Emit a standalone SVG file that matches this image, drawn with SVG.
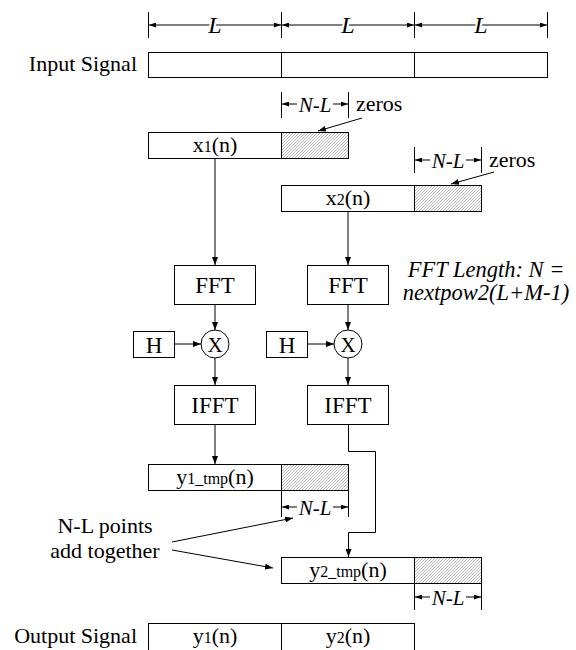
<svg xmlns="http://www.w3.org/2000/svg" width="576" height="650" viewBox="0 0 576 650" font-family="'Liberation Serif', 'Times New Roman', serif">
<style>
.box{fill:#fff;stroke:#000;stroke-width:1}
.hat{fill:url(#hatch);stroke:#000;stroke-width:1}
.ln{fill:none;stroke:#000;stroke-width:1}
.arr{fill:none;stroke:#000;stroke-width:1;marker-end:url(#ah)}
.dim{fill:none;stroke:#000;stroke-width:1;marker-start:url(#dh);marker-end:url(#dh)}
.dh{fill:none;stroke:#000;stroke-width:1;marker-end:url(#dh)}
text{font-family:"Liberation Serif","Times New Roman",serif;font-size:22px;fill:#000}
.c{text-anchor:middle}
.it{font-style:italic}
.mask{stroke:#fff;stroke-width:4;paint-order:stroke}
.sub{font-size:16px}
.big{font-size:23px}
.nl{font-size:21px}
</style>
<defs>
<pattern id="hatch" patternUnits="userSpaceOnUse" width="3" height="3">
<rect width="3" height="3" fill="#fff"/>
<path d="M0,3 L3,0 M-1,1 L1,-1 M2,4 L4,2" stroke="#8a8a8a" stroke-width="0.6"/>
</pattern>
<marker id="ah" markerUnits="userSpaceOnUse" markerWidth="8" markerHeight="6" refX="8" refY="3" orient="auto">
<path d="M0,0 L8,3 L0,6 z" fill="#000"/>
</marker>
<marker id="dh" markerUnits="userSpaceOnUse" markerWidth="7" markerHeight="5" refX="7" refY="2.5" orient="auto-start-reverse">
<path d="M0,0 L7,2.5 L0,5 z" fill="#000"/>
</marker>
</defs>

<g id="dim-top">
<path class="ln" d="M148.5,12 V38 M281.5,12 V38 M414.5,12 V38 M547.5,12 V38"/>
<path class="dim" d="M149,25 H281"/>
<path class="dim" d="M282,25 H414"/>
<path class="dim" d="M415,25 H547"/>
<text class="c it mask" x="215" y="33" style="font-size:24px">L</text>
<text class="c it mask" x="348" y="33" style="font-size:24px">L</text>
<text class="c it mask" x="481" y="33" style="font-size:24px">L</text>
</g>

<g id="input-signal">
<text x="137" y="71" text-anchor="end">Input Signal</text>
<rect class="box" x="148.5" y="52.5" width="399" height="25"/>
<path class="ln" d="M281.5,52.5 V77.5 M414.5,52.5 V77.5"/>
</g>

<g id="x1">
<rect class="box" x="148.5" y="132.5" width="133" height="26"/>
<rect class="hat" x="281.5" y="132.5" width="67" height="26"/>
<text class="c" x="215" y="152">x<tspan class="sub">1</tspan>(n)</text>
</g>
<g id="dim-x1">
<path class="ln" d="M281.5,92 V118 M348.5,92 V118"/>
<path class="dh" d="M297,104 H282"/>
<path class="dh" d="M333,104 H348"/>
<text class="c it nl" x="315" y="111.5">N-L</text>
<text x="356" y="111">zeros</text>
<path class="arr" d="M362,118 L318,131"/>
</g>

<g id="x2">
<rect class="box" x="281.5" y="185.5" width="133" height="26"/>
<rect class="hat" x="414.5" y="185.5" width="67" height="26"/>
<text class="c" x="348" y="205">x<tspan class="sub">2</tspan>(n)</text>
</g>
<g id="dim-x2">
<path class="ln" d="M414.5,147 V173 M481.5,147 V173"/>
<path class="dh" d="M430,160 H415"/>
<path class="dh" d="M466,160 H481"/>
<text class="c it nl" x="448" y="167.5">N-L</text>
<text x="489" y="167">zeros</text>
<path class="arr" d="M494,172 L451,184"/>
</g>

<g id="fft1"><rect class="box" x="174.5" y="265.5" width="81" height="39"/><text class="c big" x="215" y="293">FFT</text></g>
<g id="fft2"><rect class="box" x="307.5" y="265.5" width="81" height="39"/><text class="c big" x="348" y="293">FFT</text></g>
<g id="mul1"><circle class="box" cx="215" cy="344" r="14"/><text class="c" x="215" y="351.5" style="font-size:21px">X</text></g>
<g id="mul2"><circle class="box" cx="348" cy="344" r="14"/><text class="c" x="348" y="351.5" style="font-size:21px">X</text></g>
<g id="h1"><rect class="box" x="133.5" y="331.5" width="41" height="26"/><text class="c big" x="154" y="352.5">H</text></g>
<g id="h2"><rect class="box" x="266.5" y="331.5" width="41" height="26"/><text class="c big" x="287" y="352.5">H</text></g>
<g id="ifft1"><rect class="box" x="174.5" y="385.5" width="81" height="39"/><text class="c big" x="215" y="413">IFFT</text></g>
<g id="ifft2"><rect class="box" x="307.5" y="385.5" width="81" height="39"/><text class="c big" x="348" y="413">IFFT</text></g>

<g id="fft-note">
<text class="c it" x="486" y="277" style="font-size:22.5px">FFT Length: N =</text>
<text class="c it" x="486" y="300" style="font-size:22.5px">nextpow2(L+M-1)</text>
</g>

<g id="y1tmp">
<rect class="box" x="148.5" y="464.5" width="133" height="26"/>
<rect class="hat" x="281.5" y="464.5" width="67" height="26"/>
<text class="c" x="215" y="484">y<tspan class="sub">1_tmp</tspan>(n)</text>
</g>
<g id="dim-y1">
<path class="ln" d="M281.5,490 V517 M348.5,490 V517"/>
<path class="dh" d="M297,507 H282"/>
<path class="dh" d="M333,507 H348"/>
<text class="c it nl" x="315" y="514.5">N-L</text>
</g>

<g id="y2tmp">
<rect class="box" x="281.5" y="557.5" width="133" height="26"/>
<rect class="hat" x="414.5" y="557.5" width="67" height="26"/>
<text class="c" x="348" y="577">y<tspan class="sub">2_tmp</tspan>(n)</text>
</g>
<g id="dim-y2">
<path class="ln" d="M414.5,583 V610 M481.5,583 V610"/>
<path class="dh" d="M430,597 H415"/>
<path class="dh" d="M466,597 H481"/>
<text class="c it nl" x="448" y="604.5">N-L</text>
</g>

<g id="note">
<text class="c" x="105" y="533">N-L points</text>
<text class="c" x="105" y="558">add together</text>
</g>

<g id="output-signal">
<text x="137" y="643" text-anchor="end">Output Signal</text>
<rect class="box" x="148.5" y="623.5" width="266" height="32"/>
<path class="ln" d="M281.5,623.5 V652"/>
<text class="c" x="215" y="643">y<tspan class="sub">1</tspan>(n)</text>
<text class="c" x="348" y="643">y<tspan class="sub">2</tspan>(n)</text>
</g>

<g id="connectors">
<path class="arr" d="M215,158.5 V265"/>
<path class="arr" d="M348,211.5 V265"/>
<path class="arr" d="M215,304.5 V330"/>
<path class="arr" d="M348,304.5 V330"/>
<path class="arr" d="M174.5,344 H201"/>
<path class="arr" d="M307.5,344 H334"/>
<path class="arr" d="M215,358 V385"/>
<path class="arr" d="M348,358 V385"/>
<path class="arr" d="M215,424.5 V464"/>
<path class="arr" d="M348.5,424.5 V451.5 H375.5 V532.5 H348.5 V557"/>
<path class="arr" d="M172,542 L293,518"/>
<path class="arr" d="M172,550 L273,568"/>
</g>
</svg>
